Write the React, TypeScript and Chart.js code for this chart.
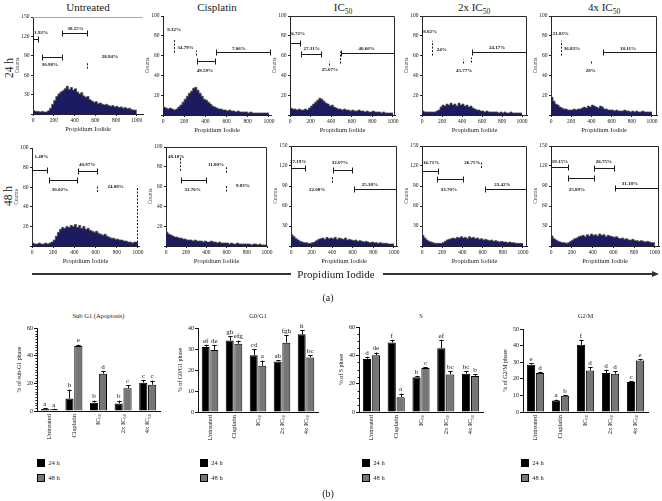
import React, { useEffect, useRef } from "react";
import { Chart, registerables } from "chart.js";

Chart.register(...registerables);

const FONT = "'Liberation Serif', 'Times New Roman', serif";
Chart.defaults.font.family = FONT;
Chart.defaults.color = "#1a1a1a";

// ---------- (a) DNA histograms: counts per 20-channel bin of Propidium Iodide ----------
const BIN_WIDTH = 20;
const piTicks = [0, 200, 400, 600, 800, 1000];
const hist24Untreated = [62,5,4,4,3,4,3,3,5,9, 15,21,27,31,34,36,39,43,38,41, 37,39,34,31,33,28,26,27,22,20, 18,19,16,17,15,14,15,13,12,13, 11,12,10,11,9,10,8,9,7,6];
const hist24Cisplatin = [12,8,7,6,7,6,5,6,8,10, 13,16,19,22,24,27,28,25,22,19, 16,15,13,11,9,8,7,6,6,5, 5,4,5,4,4,3,4,3,3,3, 3,2,3,2,2,2,2,2,2,2];
const hist24IC50 = [10,7,6,6,5,6,5,5,6,5, 7,9,11,13,15,17,16,14,12,11, 9,10,8,7,6,6,5,6,5,5, 4,5,4,4,5,4,4,3,4,3, 3,4,3,3,3,2,3,2,2,2];
const hist24IC50x2 = [44,4,3,3,3,3,3,3,4,5, 8,10,9,11,10,12,10,11,9,12, 10,11,9,10,8,9,7,6,5,5, 4,4,3,4,3,3,3,3,3,2, 3,2,3,2,2,3,2,2,2,2];
const hist24IC50x4 = [38,18,14,11,10,8,7,6,6,5, 5,5,6,5,6,6,7,8,7,9, 8,10,9,8,7,9,8,6,6,5, 5,5,4,5,4,4,4,5,4,4, 3,4,3,4,3,3,4,3,3,3];
const hist48Untreated = [18,3,2,2,3,2,2,3,2,3, 4,6,10,14,17,19,18,20,19,21, 20,22,19,21,18,20,17,18,16,15, 14,15,13,12,11,12,10,9,8,8, 7,7,6,6,5,5,4,4,3,4];
const hist48Cisplatin = [37,14,12,11,10,9,9,8,8,7, 7,6,6,6,5,6,5,5,5,4, 5,4,4,5,4,4,3,4,3,3, 3,3,2,3,2,2,3,2,2,2, 2,2,2,1,2,2,1,2,1,1];
const hist48IC50 = [40,17,14,11,9,7,6,5,5,4, 4,5,6,8,10,11,12,10,13,11, 12,11,13,10,12,11,10,12,9,10, 9,8,9,7,8,7,6,7,6,5, 6,5,5,4,5,4,4,4,3,3];
const hist48IC50x2 = [87,16,12,9,7,6,5,4,4,4, 4,5,7,9,10,11,12,11,13,12, 14,12,13,11,14,12,13,11,12,10, 11,9,10,9,8,9,7,8,7,6, 7,6,6,5,6,5,5,4,4,4];
const hist48IC50x4 = [84,15,11,9,7,6,5,5,4,5, 7,9,11,12,14,15,16,14,17,15, 18,16,17,15,18,16,17,14,16,15, 14,13,14,12,11,12,10,11,9,9, 10,8,8,7,8,7,6,7,6,5];

// gates: lines [from, to, count], marks [channel, count1, count2], labels [channel, count, text]
const gates24Untreated = { lines: [[0, 60, 116], [280, 530, 125], [85, 290, 88]], marks: [[530, 70, 80]], labels: [[78, 126, "1.92%"], [410, 132, "38.55%"], [163, 76, "30.98%"], [740, 88, "28.94%"]] };
const gates24Cisplatin = { lines: [[318, 497, 55], [497, 1020, 64]], marks: [[110, 63, 77], [318, 60, 65]], labels: [[105, 86, "9.32%"], [214, 68, "34.79%"], [396, 45, "49.59%"], [717, 67, "7.06%"]] };
const gates24IC50 = { lines: [[0, 110, 73], [110, 310, 62], [500, 1020, 63]], marks: [[500, 52, 64], [390, 50, 54]], labels: [[80, 82, "6.72%"], [210, 67, "27.31%"], [388, 46, "25.07%"], [744, 67, "40.60%"]] };
const gates24IC50x2 = { lines: [[500, 1050, 64]], marks: [[110, 60, 75], [420, 52, 56], [500, 53, 58]], labels: [[80, 84, "8.02%"], [197, 66, "24%"], [420, 45, "45.77%"], [750, 68, "24.17%"]] };
const gates24IC50x4 = { lines: [[520, 1050, 64]], marks: [[110, 60, 75], [410, 52, 55]], labels: [[95, 82, "21.03%"], [208, 67, "36.83%"], [393, 45, "28%"], [763, 67, "18.11%"]] };
const gates48Untreated = { lines: [[0, 150, 78], [435, 625, 77], [165, 435, 67]], marks: [[625, 55, 61], [1000, 0, 61]], labels: [[88, 91, "1.49%"], [520, 83, "40.97%"], [264, 57, "30.02%"], [790, 61, "24.08%"]] };
const gates48Cisplatin = { lines: [[150, 410, 67]], marks: [[150, 76, 90], [600, 74, 80], [600, 55, 61]], labels: [[100, 90, "48.18%"], [495, 82, "11.80%"], [264, 57, "32.76%"], [760, 61, "9.83%"]] };
const gates48IC50 = { lines: [[0, 150, 117], [410, 600, 114], [610, 1030, 85]], marks: [[410, 95, 105]], labels: [[70, 126, "27.19%"], [476, 125, "32.07%"], [255, 85, "22.08%"], [767, 92, "25.38%"]] };
const gates48IC50x2 = { lines: [[0, 170, 113], [150, 420, 100], [620, 1040, 85]], marks: [[590, 117, 125]], labels: [[90, 125, "16.71%"], [498, 125, "26.75%"], [267, 85, "33.70%"], [795, 92, "23.42%"]] };
const gates48IC50x4 = { lines: [[0, 170, 118], [410, 620, 117], [165, 420, 102], [620, 1040, 87]], marks: [], labels: [[85, 126, "19.15%"], [510, 126, "26.75%"], [250, 85, "25.89%"], [760, 94, "31.18%"]] };

// ---------- (b) cell-cycle phase percentages ----------
const treatments = ["Untreated", "Cisplatin", "IC50", "2x IC50", "4x IC50"];

const subG1_24 = [1.5, 9, 6, 5.5, 20.5];
const subG1_24err = [0.5, 6.5, 1.5, 2, 2];
const subG1_24letters = ["a", "b", "b", "b", "c"];
const subG1_48 = [1.2, 47, 27, 16.5, 19];
const subG1_48err = [0.4, 1, 2, 2, 3];
const subG1_48letters = ["a", "e", "d", "c", "c"];

const g0g1_24 = [31, 34, 27, 24, 37];
const g0g1_24err = [1, 2, 3, 0.7, 2];
const g0g1_24letters = ["ef", "gh", "cd", "ab", "h"];
const g0g1_48 = [29.5, 32.5, 22, 33, 26];
const g0g1_48err = [2.5, 1.5, 2.5, 3.5, 1];
const g0g1_48letters = ["de", "efg", "a", "fgh", "bc"];

const s_24 = [37.5, 49, 24.5, 45, 27];
const s_24err = [1.5, 2, 1, 6, 2];
const s_24letters = ["d", "f", "b", "ef", "bc"];
const s_48 = [40, 10.5, 31, 26.5, 25.5];
const s_48err = [2, 2.5, 0.5, 2.5, 1];
const s_48letters = ["de", "a", "c", "bc", "b"];

const g2m_24 = [28.5, 7, 40.5, 23.5, 18];
const g2m_24err = [1, 0.5, 3, 2, 0.5];
const g2m_24letters = ["e", "a", "f", "d", "c"];
const g2m_48 = [23.5, 9.8, 25, 23, 31];
const g2m_48err = [0.8, 0.5, 2, 1.5, 1];
const g2m_48letters = ["d", "b", "d", "d", "e"];

const NAVY = "#1d1b5f";
const GRAY48 = "#767676";

type Plot = { left: number; top: number; right: number; bottom: number };
type Gates = { lines: number[][]; marks: number[][]; labels: (number | string)[][] };

function Histogram(props: { counts: number[]; plot: Plot; xMax: number; yMax: number; yStep: number; frame: string; gates: Gates }) {
  const { counts, plot, xMax, yMax, yStep, frame, gates } = props;
  const ref = useRef<HTMLCanvasElement>(null);
  const ML = 19, MR = 12, MT = 7, MB = 19;
  const w = plot.right - plot.left + ML + MR;
  const h = plot.bottom - plot.top + MT + MB;
  useEffect(() => {
    const pts = counts.map((c, i) => ({ x: i * BIN_WIDTH, y: c }));
    pts.push({ x: counts.length * BIN_WIDTH, y: counts[counts.length - 1] });
    const overlay = {
      id: "gates",
      afterDatasetsDraw(chart: any) {
        const { ctx, chartArea: a } = chart;
        const xs = chart.scales.x, ys = chart.scales.y;
        ctx.save();
        ctx.lineWidth = 1;
        if (frame !== "none") {
          ctx.strokeStyle = frame === "top" ? "#a8a8a8" : "#2a2a2a";
          ctx.beginPath();
          ctx.moveTo(a.left, a.top + 0.5);
          ctx.lineTo(a.right - 0.5, a.top + 0.5);
          if (frame === "full") ctx.lineTo(a.right - 0.5, a.bottom);
          ctx.stroke();
        }
        ctx.strokeStyle = "#1a1a1a";
        ctx.beginPath();
        for (const [x1, x2, yv] of gates.lines) {
          const p1 = Math.round(xs.getPixelForValue(x1)) + 0.5;
          const p2 = Math.round(xs.getPixelForValue(x2)) - 0.5;
          const py = Math.round(ys.getPixelForValue(yv)) + 0.5;
          ctx.moveTo(p1, py); ctx.lineTo(p2, py);
          ctx.moveTo(p1, py - 3); ctx.lineTo(p1, py + 3);
          ctx.moveTo(p2, py - 3); ctx.lineTo(p2, py + 3);
        }
        ctx.stroke();
        ctx.setLineDash([2, 1.5]);
        ctx.beginPath();
        for (const [xv, y1, y2] of gates.marks) {
          const px = Math.round(xs.getPixelForValue(xv)) - 0.5;
          ctx.moveTo(px, ys.getPixelForValue(y1));
          ctx.lineTo(px, ys.getPixelForValue(y2));
        }
        ctx.stroke();
        ctx.setLineDash([]);
        ctx.fillStyle = "#111";
        ctx.font = `bold 5px ${FONT}`;
        ctx.textAlign = "center";
        ctx.textBaseline = "middle";
        for (const [xv, yv, t] of gates.labels) {
          ctx.fillText(String(t), xs.getPixelForValue(xv as number), ys.getPixelForValue(yv as number));
        }
        ctx.restore();
      },
    };
    const chart = new Chart(ref.current!, {
      type: "line",
      data: {
        datasets: [{
          data: pts,
          stepped: "after",
          fill: "origin",
          backgroundColor: NAVY,
          borderColor: "#4a4a4a",
          borderWidth: 0.8,
          pointRadius: 0,
        }],
      },
      options: {
        animation: false,
        responsive: false,
        devicePixelRatio: 1,
        parsing: false as any,
        layout: { padding: { left: 0, right: MR, top: MT, bottom: 0 } },
        plugins: { legend: { display: false }, tooltip: { enabled: false } },
        scales: {
          x: {
            type: "linear", min: 0, max: xMax,
            afterBuildTicks: (s: any) => { s.ticks = piTicks.map((v) => ({ value: v })); },
            ticks: { font: { size: 5.5 }, padding: 1.5, maxRotation: 0, autoSkip: false, color: "#222", callback: (v: any) => String(v) },
            grid: { display: true, drawOnChartArea: false, drawTicks: true, tickLength: 2, color: "#222" },
            border: { display: true, color: "#222", width: 1 },
            title: { display: true, text: "Propidium Iodide", font: { size: 6.5 }, padding: 0, color: "#222" },
            afterFit: (s: any) => { s.height = MB; s.paddingLeft = 0; s.paddingRight = 0; },
          },
          y: {
            min: 0, max: yMax,
            ticks: { stepSize: yStep, font: { size: 5.5 }, padding: 1.5, color: "#222", callback: (v: any) => (v === 0 ? "" : String(v)) },
            grid: { display: true, drawOnChartArea: false, drawTicks: true, tickLength: 2, color: "#222" },
            border: { display: true, color: "#222", width: 1 },
            title: { display: true, text: "Counts", font: { size: 5.5 }, padding: 0, color: "#222" },
            afterFit: (s: any) => { s.width = ML; s.paddingTop = 0; s.paddingBottom = 0; },
          },
        },
      } as any,
      plugins: [overlay],
    });
    return () => chart.destroy();
  }, []);
  return <canvas ref={ref} width={w} height={h} style={{ position: "absolute", left: plot.left - ML, top: plot.top - MT, width: w, height: h }} />;
}

function BarPanel(props: {
  plot: Plot; yMax: number; yStep: number; minorStep: number; yTitle: string;
  v24: number[]; e24: number[]; l24: string[]; v48: number[]; e48: number[]; l48: string[];
}) {
  const { plot, yMax, yStep, minorStep, yTitle, v24, e24, l24, v48, e48, l48 } = props;
  const ref = useRef<HTMLCanvasElement>(null);
  const ML = 21, MR = 6, MT = 14, MB = 40;
  const w = plot.right - plot.left + ML + MR;
  const h = plot.bottom - plot.top + MT + MB;
  useEffect(() => {
    const errs = [e24, e48];
    const letters = [l24, l48];
    const deco = {
      id: "deco",
      afterDatasetsDraw(chart: any) {
        const { ctx, chartArea: a } = chart;
        const xs = chart.scales.x, ys = chart.scales.y;
        ctx.save();
        ctx.strokeStyle = "#111";
        ctx.lineWidth = 1;
        if (minorStep) {
          ctx.beginPath();
          for (let v = minorStep; v < yMax; v += minorStep) {
            if (v % yStep === 0) continue;
            const py = Math.round(ys.getPixelForValue(v)) + 0.5;
            ctx.moveTo(a.left - 1.5, py);
            ctx.lineTo(a.left, py);
          }
          ctx.stroke();
        }
        chart.data.datasets.forEach((ds: any, di: number) => {
          const meta = chart.getDatasetMeta(di);
          meta.data.forEach((bar: any, i: number) => {
            const v = ds.data[i];
            const top = ys.getPixelForValue(v + errs[di][i]);
            const cx = Math.round(bar.x) + 0.5;
            const hw = 2.2;
            ctx.beginPath();
            ctx.moveTo(cx, bar.y);
            ctx.lineTo(cx, top);
            ctx.moveTo(cx - hw, Math.round(top) + 0.5);
            ctx.lineTo(cx + hw, Math.round(top) + 0.5);
            ctx.stroke();
            ctx.fillStyle = "#111";
            ctx.font = `7px ${FONT}`;
            ctx.textAlign = "center";
            ctx.textBaseline = "bottom";
            ctx.fillText(letters[di][i], bar.x, top - 0.5);
          });
        });
        // rotated category labels with subscripts
        treatments.forEach((t, i) => {
          const px = xs.getPixelForValue(i);
          const m = t.match(/^(.*IC)(50)$/);
          const main = m ? m[1] : t;
          const sub = m ? m[2] : "";
          ctx.save();
          ctx.translate(px, a.bottom + 3);
          ctx.rotate(-Math.PI / 2);
          ctx.fillStyle = "#111";
          ctx.textBaseline = "middle";
          ctx.textAlign = "left";
          ctx.font = `6.5px ${FONT}`;
          const wm = ctx.measureText(main).width;
          ctx.font = `4.5px ${FONT}`;
          const ws = sub ? ctx.measureText(sub).width : 0;
          ctx.font = `6.5px ${FONT}`;
          ctx.fillText(main, -(wm + ws), 0);
          if (sub) {
            ctx.font = `4.5px ${FONT}`;
            ctx.fillText(sub, -ws, 1.8);
          }
          ctx.restore();
        });
        ctx.restore();
      },
    };
    const chart = new Chart(ref.current!, {
      type: "bar",
      data: {
        labels: treatments,
        datasets: [
          { label: "24 h", data: v24, backgroundColor: "#000", borderColor: "#000", borderWidth: 1, categoryPercentage: 0.72, barPercentage: 0.92 },
          { label: "48 h", data: v48, backgroundColor: GRAY48, borderColor: "#000", borderWidth: 1, categoryPercentage: 0.72, barPercentage: 0.92 },
        ],
      },
      options: {
        animation: false,
        responsive: false,
        devicePixelRatio: 1,
        layout: { padding: { left: 0, right: MR, top: MT, bottom: 0 } },
        plugins: { legend: { display: false }, tooltip: { enabled: false }, title: { display: false } },
        scales: {
          x: {
            type: "category", offset: true,
            ticks: { display: false },
            grid: { display: false },
            border: { display: true, color: "#111", width: 1 },
            afterFit: (s: any) => { s.height = MB; s.paddingLeft = 0; s.paddingRight = 0; },
          },
          y: {
            min: 0, max: yMax,
            ticks: { stepSize: yStep, font: { size: 6 }, padding: 1, color: "#111" },
            grid: { display: true, drawOnChartArea: false, drawTicks: true, tickLength: 3, color: "#111" },
            border: { display: true, color: "#111", width: 1 },
            title: { display: true, text: yTitle, font: { size: 6 }, padding: 0, color: "#111" },
            afterFit: (s: any) => { s.width = ML; s.paddingTop = 0; s.paddingBottom = 0; },
          },
        },
      } as any,
      plugins: [deco],
    });
    return () => chart.destroy();
  }, []);
  return <canvas ref={ref} width={w} height={h} style={{ position: "absolute", left: plot.left - ML, top: plot.top - MT, width: w, height: h }} />;
}

function Txt(props: { x: number; y: number; size: number; rot?: boolean; children: any }) {
  const { x, y, size, rot, children } = props;
  return (
    <div style={{
      position: "absolute", left: x, top: y, fontSize: size, lineHeight: 1, whiteSpace: "nowrap", color: "#1a1a1a",
      transform: `translate(-50%, -50%)${rot ? " rotate(-90deg)" : ""}`,
    }}>{children}</div>
  );
}

const Sub = (p: { children: any }) => (
  <span style={{ fontSize: "0.68em", position: "relative", top: "0.35em" }}>{p.children}</span>
);

function Legend(props: { x: number; y: number }) {
  const { x, y } = props;
  const sq = (bg: string, top: number) => (
    <div style={{ position: "absolute", left: x, top, width: 6, height: 6, background: bg, border: "1px solid #000" }} />
  );
  return (
    <>
      {sq("#000", y)}
      <Txt x={x + 17} y={y + 4} size={6.5}>24 h</Txt>
      {sq(GRAY48, y + 15)}
      <Txt x={x + 17} y={y + 19} size={6.5}>48 h</Txt>
    </>
  );
}

export default function App() {
  return (
    <div style={{ position: "fixed", left: 0, top: 0, width: 662, height: 501, background: "#fff", overflow: "hidden", fontFamily: FONT }}>
      {/* row titles */}
      <Txt x={88} y={7} size={11}>Untreated</Txt>
      <Txt x={217} y={7} size={11}>Cisplatin</Txt>
      <Txt x={343} y={7} size={11}>IC<Sub>50</Sub></Txt>
      <Txt x={474} y={7} size={11}>2x IC<Sub>50</Sub></Txt>
      <Txt x={604} y={7} size={11}>4x IC<Sub>50</Sub></Txt>
      <Txt x={10} y={68} size={11.5} rot>24 h</Txt>
      <Txt x={9} y={196} size={11.5} rot>48 h</Txt>

      <Histogram counts={hist24Untreated} plot={{ left: 33, right: 143, top: 17, bottom: 114 }} xMax={1060} yMax={150} yStep={30} frame="top" gates={gates24Untreated} />
      <Histogram counts={hist24Cisplatin} plot={{ left: 163, right: 271, top: 16, bottom: 115 }} xMax={1020} yMax={100} yStep={20} frame="none" gates={gates24Cisplatin} />
      <Histogram counts={hist24IC50} plot={{ left: 290, right: 395, top: 16, bottom: 115 }} xMax={1020} yMax={100} yStep={20} frame="full" gates={gates24IC50} />
      <Histogram counts={hist24IC50x2} plot={{ left: 422, right: 527, top: 16, bottom: 115 }} xMax={1050} yMax={100} yStep={20} frame="full" gates={gates24IC50x2} />
      <Histogram counts={hist24IC50x4} plot={{ left: 551, right: 657, top: 16, bottom: 115 }} xMax={1050} yMax={100} yStep={20} frame="full" gates={gates24IC50x4} />

      <Histogram counts={hist48Untreated} plot={{ left: 32, right: 139, top: 148, bottom: 246 }} xMax={1010} yMax={100} yStep={20} frame="none" gates={gates48Untreated} />
      <Histogram counts={hist48Cisplatin} plot={{ left: 166, right: 267, top: 147, bottom: 246 }} xMax={1000} yMax={100} yStep={20} frame="full" gates={gates48Cisplatin} />
      <Histogram counts={hist48IC50} plot={{ left: 291, right: 397, top: 146, bottom: 246 }} xMax={1030} yMax={150} yStep={30} frame="full" gates={gates48IC50} />
      <Histogram counts={hist48IC50x2} plot={{ left: 422, right: 527, top: 146, bottom: 246 }} xMax={1040} yMax={150} yStep={30} frame="full" gates={gates48IC50x2} />
      <Histogram counts={hist48IC50x4} plot={{ left: 551, right: 659, top: 146, bottom: 246 }} xMax={1040} yMax={150} yStep={30} frame="full" gates={gates48IC50x4} />

      {/* Propidium Iodide arrow */}
      <div style={{ position: "absolute", left: 32, top: 273, width: 259, height: 1.5, background: "#333" }} />
      <Txt x={336} y={274} size={11}>Propidium Iodide</Txt>
      <div style={{ position: "absolute", left: 383, top: 273, width: 270, height: 1.5, background: "#333" }} />
      <div style={{ position: "absolute", left: 652, top: 270.5, width: 0, height: 0, borderTop: "3.5px solid transparent", borderBottom: "3.5px solid transparent", borderLeft: "7px solid #333" }} />
      <Txt x={328} y={298} size={10}>(a)</Txt>

      {/* (b) bar charts */}
      <Txt x={98.5} y={316} size={6.5}>Sub G1 (Apoptosis)</Txt>
      <Txt x={258} y={316} size={6.5}>G0/G1</Txt>
      <Txt x={421} y={316} size={6.5}>S</Txt>
      <Txt x={585.5} y={316} size={6.5}>G2/M</Txt>

      <BarPanel plot={{ left: 37, right: 160, top: 328, bottom: 411 }} yMax={60} yStep={20} minorStep={2} yTitle="% of sub-G1 phase"
        v24={subG1_24} e24={subG1_24err} l24={subG1_24letters} v48={subG1_48} e48={subG1_48err} l48={subG1_48letters} />
      <BarPanel plot={{ left: 198, right: 318, top: 328, bottom: 412 }} yMax={40} yStep={10} minorStep={0} yTitle="% of G0/G1 phase"
        v24={g0g1_24} e24={g0g1_24err} l24={g0g1_24letters} v48={g0g1_48} e48={g0g1_48err} l48={g0g1_48letters} />
      <BarPanel plot={{ left: 359, right: 483, top: 327, bottom: 412 }} yMax={60} yStep={20} minorStep={5} yTitle="% of S phase"
        v24={s_24} e24={s_24err} l24={s_24letters} v48={s_48} e48={s_48err} l48={s_48letters} />
      <BarPanel plot={{ left: 523, right: 648, top: 329, bottom: 412 }} yMax={50} yStep={10} minorStep={0} yTitle="% of G2/M phase"
        v24={g2m_24} e24={g2m_24err} l24={g2m_24letters} v48={g2m_48} e48={g2m_48err} l48={g2m_48letters} />

      <Legend x={37} y={459} />
      <Legend x={200} y={459} />
      <Legend x={362} y={459} />
      <Legend x={521} y={459} />
      <Txt x={328} y={494} size={10}>(b)</Txt>
    </div>
  );
}
